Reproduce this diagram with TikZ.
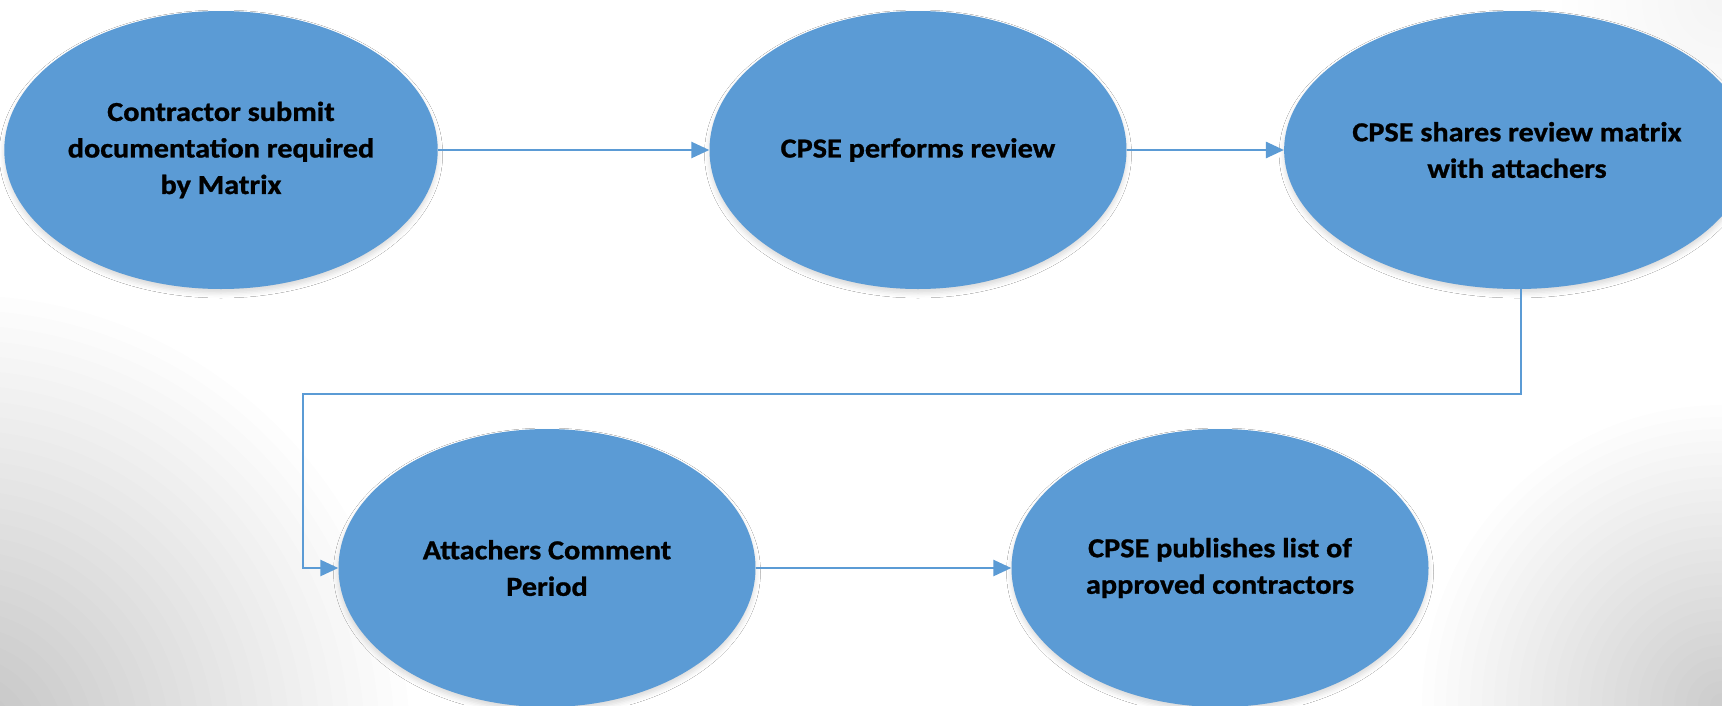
\documentclass[tikz,border=0pt]{standalone}
\usepackage{fontspec}
\setmainfont{Carlito}[FakeStretch=1.1, BoldFeatures={FakeBold=1}]
\usetikzlibrary{shapes.geometric,arrows.meta,shadows.blur}
\definecolor{obl}{HTML}{5B9BD5}
\tikzset{
  proc/.style={ellipse, fill=obl, minimum width=417pt, minimum height=278pt,
    inner sep=0pt, align=center, text=black,
    font=\fontsize{27.5}{36.5}\selectfont\bfseries,
    blur shadow={shadow xshift=0pt, shadow yshift=-4pt, shadow blur radius=5pt, shadow opacity=15}},
  conn/.style={draw=obl, line width=2.6pt, -{Triangle[length=18pt,width=16pt]}}
}
\begin{document}
\begin{tikzpicture}[x=1pt,y=-1pt]
  \useasboundingbox (0,0) rectangle (1722,705);
  \fill[white] (0,0) rectangle (1722,705);
  \begin{scope}
    \clip (0,0) rectangle (1722,705);
    \foreach \i in {1,...,30} \fill[black, opacity=0.008] (-40,745) circle ({15*\i});
    \foreach \i in {1,...,25} \fill[black, opacity=0.008] (1722,705) circle ({12*\i});
    \foreach \i in {1,...,10} \fill[black, opacity=0.004] (1722,0) circle ({16*\i});
  \end{scope}

  \node[proc] (e1) at (221,150) {Contractor submit\\documentation required\\by Matrix};
  \node[proc] (e2) at (918,150) {CPSE performs review};
  \node[proc] (e3) at (1517,150) {CPSE shares review matrix\\with attachers};
  \node[proc] (e4) at (547,568) {Attachers Comment\\Period};
  \node[proc] (e5) at (1220,568) {CPSE publishes list of\\approved contractors};

  \coordinate (k1) at (1521,394);
  \coordinate (k2) at (303,394);

  \draw[conn] (e1.east) -- (e2.west);
  \draw[conn] (e2.east) -- (e3.west);
  \draw[conn] (e3.south -| k1) -- (k1) -- (k2) |- (e4.west);
  \draw[conn] (e4.east) -- (e5.west);
\end{tikzpicture}
\end{document}
